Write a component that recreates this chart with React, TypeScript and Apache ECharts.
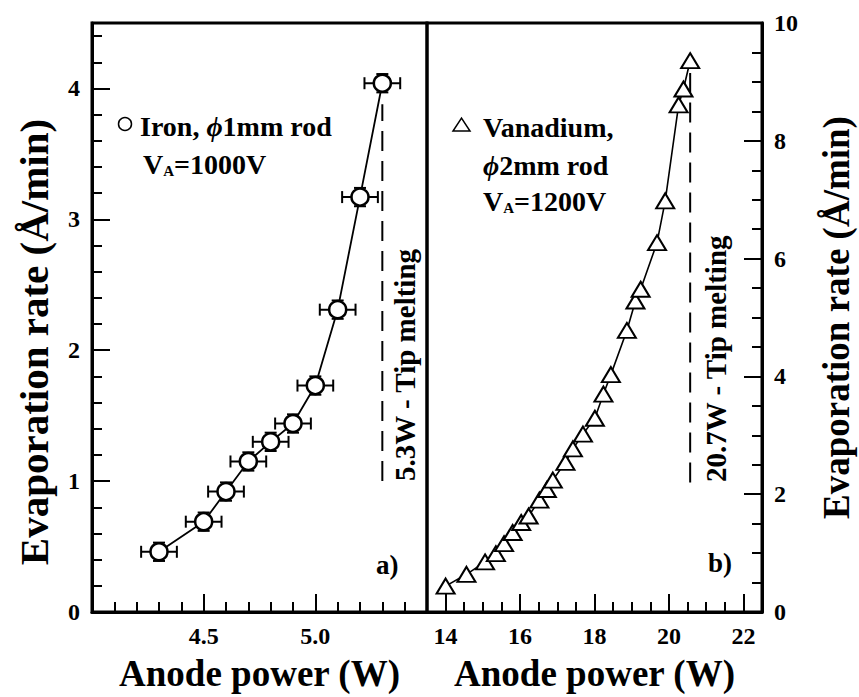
import React, { useEffect, useRef } from 'react';
import * as echarts from 'echarts';

// ---- Iron (panel a) ----
const ironPower = [4.3, 4.5, 4.6, 4.7, 4.8, 4.9, 5.0, 5.1, 5.2, 5.3];
const ironRate = [0.46, 0.69, 0.92, 1.15, 1.30, 1.44, 1.73, 2.31, 3.17, 4.04];
const ironPowerErr = [0.08, 0.08, 0.08, 0.08, 0.08, 0.08, 0.08, 0.08, 0.08, 0.08];
const ironRateErr = [0.07, 0.07, 0.07, 0.07, 0.07, 0.07, 0.07, 0.07, 0.07, 0.07];
const ironMeltPower = 5.3;
const ironMeltRange = [1.0, 3.88];

// ---- Vanadium (panel b) ----
const vanPower = [14.0, 14.56, 15.06, 15.35, 15.57, 15.8, 16.03, 16.23, 16.52, 16.72, 16.88, 17.22, 17.42, 17.69, 18.01, 18.24, 18.44, 18.87, 19.1, 19.24, 19.68, 19.9, 20.26, 20.39, 20.57];
const vanRate = [0.44, 0.64, 0.85, 0.99, 1.16, 1.35, 1.52, 1.63, 1.90, 2.08, 2.24, 2.54, 2.77, 3.02, 3.29, 3.70, 4.03, 4.78, 5.28, 5.48, 6.27, 6.98, 8.61, 8.88, 9.36];
const vanMeltPower = 20.57;
const vanMeltRange = [2.2, 9.15];

// ---- Axis ticks / labels ----
const ironXTicks = [4.5, 5.0];
const ironYTicks = [0, 1, 2, 3, 4];
const vanXTicks = [14, 16, 18, 20, 22];
const vanYTicks = [0, 2, 4, 6, 8, 10];

const FONT = "'Liberation Serif', 'Times New Roman', serif";

const lbl = (extra: any = {}) => ({
  fontFamily: FONT,
  fontWeight: 'bold',
  fontSize: 24,
  color: '#000',
  ...extra,
});

const lineStyle = { color: '#000', width: 3 };
const tickStyle = { color: '#000', width: 2 };

function majorAxis(gridIndex: number, position: string, min: number, max: number, ticks: number[], fmt: (v: number) => string, name: string, nameGap: number, nameSize: number, nameRotate?: number, namePadding?: number[]) {
  return {
    type: 'value',
    gridIndex,
    position,
    min,
    max,
    name,
    nameLocation: 'middle',
    nameGap,
    nameRotate,
    nameTextStyle: { fontFamily: FONT, fontWeight: 'bold', fontSize: nameSize, color: '#000', padding: namePadding || 0 },
    axisLine: { show: true, onZero: false, lineStyle },
    axisTick: { show: true, inside: true, length: 18, lineStyle: tickStyle, customValues: ticks },
    axisLabel: { show: true, customValues: ticks, formatter: fmt, margin: 12, ...lbl() },
    splitLine: { show: false },
  };
}

function minorAxis(gridIndex: number, position: string, min: number, max: number, interval: number) {
  return {
    type: 'value',
    gridIndex,
    position,
    min,
    max,
    interval,
    axisLine: { show: false, onZero: false },
    axisTick: { show: true, inside: true, length: 10, lineStyle: tickStyle },
    axisLabel: { show: false },
    splitLine: { show: false },
  };
}

export default function App() {
  const ref = useRef<HTMLDivElement>(null);
  useEffect(() => {
    const chart = echarts.init(ref.current!, null, { renderer: 'svg' });

    const errRender = (params: any, api: any) => {
      const x = api.value(0);
      const y = api.value(1);
      const ex = api.value(2);
      const ey = api.value(3);
      const l = api.coord([x - ex, y]);
      const r = api.coord([x + ex, y]);
      const t = api.coord([x, y + ey]);
      const b = api.coord([x, y - ey]);
      const cap = 6;
      const st = { stroke: '#000', lineWidth: 2 };
      return {
        type: 'group',
        children: [
          { type: 'line', shape: { x1: l[0], y1: l[1], x2: r[0], y2: r[1] }, style: st },
          { type: 'line', shape: { x1: l[0], y1: l[1] - cap, x2: l[0], y2: l[1] + cap }, style: st },
          { type: 'line', shape: { x1: r[0], y1: r[1] - cap, x2: r[0], y2: r[1] + cap }, style: st },
          { type: 'line', shape: { x1: t[0], y1: t[1], x2: b[0], y2: b[1] }, style: st },
          { type: 'line', shape: { x1: t[0] - cap, y1: t[1], x2: t[0] + cap, y2: t[1] }, style: st },
          { type: 'line', shape: { x1: b[0] - cap, y1: b[1], x2: b[0] + cap, y2: b[1] }, style: st },
        ],
      };
    };

    const txt = (text: string, x: number, y: number, size: number, extra: any = {}) => ({
      type: 'text',
      x,
      y,
      ...extra,
      style: {
        text,
        fontFamily: FONT,
        fontWeight: 'bold',
        fontSize: size,
        fill: '#000',
        align: 'left',
        verticalAlign: 'middle',
        textAlign: 'left',
        textVerticalAlign: 'middle',
        rich: {
          sub: { fontFamily: FONT, fontWeight: 'bold', fontSize: 15, verticalAlign: 'bottom', fill: '#000' },
          phi: { fontFamily: FONT, fontWeight: 'bold', fontStyle: 'italic', fontSize: size, fill: '#000' },
        },
        ...(extra.style || {}),
      },
    });

    const option: any = {
      animation: false,
      backgroundColor: '#fff',
      grid: [
        { left: 92, top: 23, width: 335, height: 589, show: true, borderColor: '#000', borderWidth: 3, backgroundColor: 'transparent' },
        { left: 427, top: 23, width: 335, height: 589, show: true, borderColor: '#000', borderWidth: 3, backgroundColor: 'transparent' },
      ],
      xAxis: [
        majorAxis(0, 'bottom', 4.0, 5.5, ironXTicks, (v: number) => v.toFixed(1), 'Anode power (W)', 43, 37),
        minorAxis(0, 'bottom', 4.0, 5.5, 0.1),
        majorAxis(1, 'bottom', 13.5, 22.5, vanXTicks, (v: number) => String(v), 'Anode power (W)', 43, 37),
        minorAxis(1, 'bottom', 13.5, 22.5, 0.5),
      ],
      yAxis: [
        majorAxis(0, 'left', 0, 4.5, ironYTicks, (v: number) => String(v), 'Evaporation rate (Å/min)', 38, 41, 90, [0, 49, 0, 0]),
        minorAxis(0, 'left', 0, 4.5, 0.2),
        majorAxis(1, 'right', 0, 10, vanYTicks, (v: number) => String(v), 'Evaporation rate (Å/min)', 56, 37, 90),
        minorAxis(1, 'right', 0, 10, 0.5),
      ],
      series: [
        {
          type: 'custom',
          name: 'Iron error',
          xAxisIndex: 0,
          yAxisIndex: 0,
          renderItem: errRender,
          encode: { x: 0, y: 1 },
          data: ironPower.map((p, i) => [p, ironRate[i], ironPowerErr[i], ironRateErr[i]]),
          z: 2,
        },
        {
          type: 'line',
          name: 'Iron, ϕ1mm rod',
          xAxisIndex: 0,
          yAxisIndex: 0,
          data: ironPower.map((p, i) => [p, ironRate[i]]),
          symbol: 'circle',
          symbolSize: 17,
          itemStyle: { color: '#fff', borderColor: '#000', borderWidth: 2.5 },
          lineStyle: { color: '#000', width: 1.8 },
          z: 3,
        },
        {
          type: 'line',
          name: 'Iron melting',
          xAxisIndex: 0,
          yAxisIndex: 0,
          data: ironMeltRange.map((r) => [ironMeltPower, r]),
          symbol: 'none',
          lineStyle: { color: '#000', width: 2, type: [20, 10] },
          z: 1,
        },
        {
          type: 'line',
          name: 'Vanadium, ϕ2mm rod',
          xAxisIndex: 2,
          yAxisIndex: 2,
          data: vanPower.map((p, i) => [p, vanRate[i]]),
          symbol: 'triangle',
          symbolSize: [18, 15],
          itemStyle: { color: '#fff', borderColor: '#000', borderWidth: 2 },
          lineStyle: { color: '#000', width: 1.6 },
          z: 3,
        },
        {
          type: 'line',
          name: 'Vanadium melting',
          xAxisIndex: 2,
          yAxisIndex: 2,
          data: vanMeltRange.map((r) => [vanMeltPower, r]),
          symbol: 'none',
          lineStyle: { color: '#000', width: 2, type: [20, 10] },
          z: 1,
        },
      ],
      graphic: [
        { type: 'circle', shape: { cx: 125, cy: 124, r: 6.5 }, style: { fill: '#fff', stroke: '#000', lineWidth: 1.5 } },
        txt('Iron, {phi|ϕ}1mm rod', 140, 126, 28),
        txt('V{sub|A}=1000V', 143, 164, 28),
        { type: 'polygon', shape: { points: [[453, 131], [470, 131], [461.5, 118]] }, style: { fill: '#fff', stroke: '#000', lineWidth: 1.5 } },
        txt('Vanadium,', 483, 127, 28),
        txt('{phi|ϕ}2mm rod', 483, 165, 28),
        txt('V{sub|A}=1200V', 483, 201, 28),
        txt('5.3W - Tip melting', 405, 481, 29, { rotation: Math.PI / 2 }),
        txt('20.7W - Tip melting', 716, 482, 29, { rotation: Math.PI / 2 }),
        txt('a)', 376, 565, 27),
        txt('b)', 708, 563, 27),
      ],
    };

    chart.setOption(option);
    return () => chart.dispose();
  }, []);
  return <div ref={ref} style={{ position: 'absolute', left: 0, top: 0, width: 859, height: 697 }} />;
}
